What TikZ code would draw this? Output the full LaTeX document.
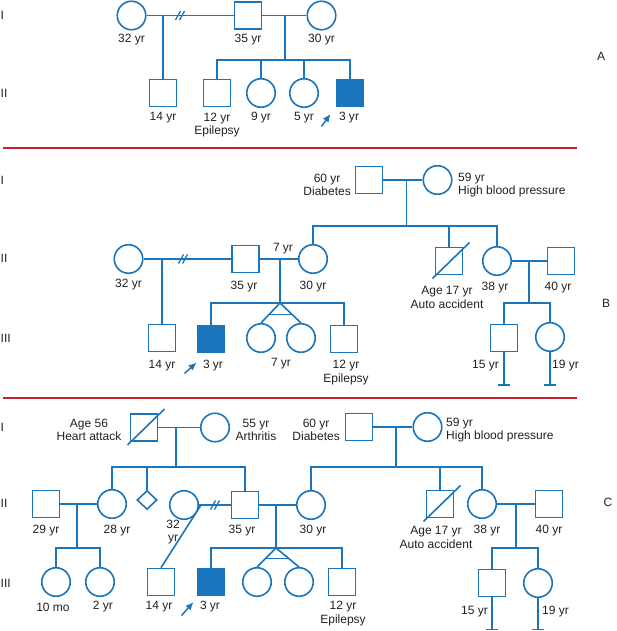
\documentclass[tikz,border=0pt]{standalone}
\usepackage{fontspec}
\setmainfont{Liberation Sans}
\usetikzlibrary{arrows.meta,shapes.geometric,calc}
\definecolor{pblue}{RGB}{27,117,188}
\definecolor{sepred}{RGB}{196,32,45}
\definecolor{txt}{RGB}{35,31,32}
\tikzset{
  pl/.style={draw=pblue, line width=1.6pt},
  sq/.style={pl, rectangle, minimum size=27pt, inner sep=0pt},
  fsq/.style={sq, fill=pblue},
  ci/.style={pl, circle, minimum size=28.5pt, inner sep=0pt},
  dia/.style={pl, diamond, minimum width=20pt, minimum height=19pt, inner sep=0pt},
  lb/.style={text=txt, font=\fontsize{12}{13.5}\selectfont, inner sep=0pt, align=center},
  gen/.style={lb, anchor=west},
  proband/.style={draw=pblue, line width=1.5pt, -{Latex[length=8pt,width=7pt]}},
  sepline/.style={draw=sepred, line width=1.2pt},
}
\newcommand\pedslash[1]{\draw[pl,line width=1.3pt] ([shift={(-4.5,4.5)}]#1) -- ++(5,-9) ([shift={(-0.5,4.5)}]#1) -- ++(5,-9);}
\newcommand\peddead[1]{\draw[pl] ([shift={(-16.5,17.5)}]#1.center) -- ([shift={(20.5,-18.5)}]#1.center);}
\begin{document}
\begin{tikzpicture}[x=1pt,y=-1pt]
\useasboundingbox (0,0) rectangle (616,631);

% ================= Panel A =================
\node[ci] (a32) at (131.5,15.5) {};
\node[sq] (a35) at (248,15.5) {};
\node[ci] (a30) at (321.5,15.5) {};
\node[sq] (a14) at (163,93) {};
\node[sq] (a12) at (217,93) {};
\node[ci] (a9) at (261,93) {};
\node[ci] (a5) at (304,93) {};
\node[fsq] (a3) at (350,93) {};
\draw[pl] (a32) -- (a35);
\draw[pl] (a35) -- (a30);
\pedslash{180,15.5}
\coordinate (aj1) at (163,15.5);
\draw[pl] (aj1) -- (a14.north);
\coordinate (aj2) at (285,15.5);
\coordinate (as2) at (285,60);
\draw[pl] (aj2) -- (as2);
\draw[pl] (a12.north) |- (as2) -| (a3.north);
\draw[pl] (a9.north) -- (a9.north |- as2);
\draw[pl] (a5.north) -- (a5.north |- as2);

\node[lb] (ta32) at (131.5,40) {32 yr};
\node[lb] (ta35) at (248,40) {35 yr};
\node[lb] (ta30) at (321.5,40) {30 yr};
\node[lb] (ta14) at (163,118) {14 yr};
\node[lb] (ta12) at (217,125) {12 yr\\Epilepsy};
\node[lb] (ta9) at (261,118) {9 yr};
\node[lb] (ta5) at (304,118) {5 yr};
\node[lb] (ta3) at (349,118) {3 yr};
\coordinate (pa0) at (321.5,126.5);
\coordinate (pa1) at (330.5,114);
\draw[proband] (pa0) -- (pa1);

\node[gen] (gA1) at (0.5,15) {I};
\node[gen] (gA2) at (0.5,93) {II};
\node[lb] (lA) at (601,56) {A};

\coordinate (sepA0) at (3,148);
\coordinate (sepA1) at (577,148);
\draw[sepline] (sepA0) -- (sepA1);

% ================= Panel B =================
\node[sq] (b60) at (369,180) {};
\node[ci] (b59) at (437.5,180) {};
\draw[pl] (b60) -- (b59);
\coordinate (bj1) at (406.5,180);
\coordinate (bs1) at (406.5,226);
\draw[pl] (bj1) -- (bs1);

\node[ci] (b32) at (128.5,259) {};
\node[sq] (b35) at (245.5,259) {};
\node[ci] (b30) at (313,259) {};
\node[sq] (b17) at (449,261) {};
\node[ci] (b38) at (497,261) {};
\node[sq] (b40) at (561,261) {};
\draw[pl] (b30.north) |- (bs1) -| (b38.north);
\draw[pl] (b17.north) -- (b17.north |- bs1);
\peddead{b17}
\draw[pl] (b32) -- (b35);
\pedslash{183,259}
\draw[pl] (b35) -- (b30);
\draw[pl] (b38) -- (b40);

\node[sq] (b14) at (162,338) {};
\coordinate (bj2) at (162,259);
\draw[pl] (bj2) -- (b14.north);
\coordinate (bj3) at (280,259);
\coordinate (bs3) at (280,303);
\draw[pl] (bj3) -- (bs3);
\node[fsq] (b3) at (211,339) {};
\node[ci] (bt1) at (261,338) {};
\node[ci] (bt2) at (301,338) {};
\node[sq] (b12) at (344,339) {};
\draw[pl] (b3.north) |- (bs3) -| (b12.north);
\draw[pl] (bt1.north) -- (bs3) -- (bt2.north);
\draw[pl] ($(bs3)!0.58!(bt1.north)$) -- ($(bs3)!0.58!(bt2.north)$);

\coordinate (bj4) at (529,261);
\coordinate (bs4) at (529,303);
\draw[pl] (bj4) -- (bs4);
\node[sq] (b15) at (504,338) {};
\node[ci] (b19) at (550,337) {};
\draw[pl] (b15.north) |- (bs4) -| (b19.north);
\coordinate (be15) at (504,385);
\coordinate (be19) at (550,385);
\draw[pl] (b15.south) -- (be15);
\draw[pl] ([xshift=-6pt]be15) -- ([xshift=6pt]be15);
\draw[pl] (b19.south) -- (be19);
\draw[pl] ([xshift=-6pt]be19) -- ([xshift=6pt]be19);

\node[lb, anchor=east] (tb60) at (351,185) {60 yr\\Diabetes};
\node[lb, anchor=west, align=left] (tb59) at (458,185) {59 yr\\High blood pressure};
\node[lb] (tb32) at (128.5,285) {32 yr};
\node[lb] (tb35) at (244,287) {35 yr};
\node[lb] (tb7) at (283,249) {7 yr};
\node[lb] (tb30) at (313,287) {30 yr};
\node[lb] (tb17) at (447,297.5) {Age 17 yr\\Auto accident};
\node[lb] (tb38) at (495,288) {38 yr};
\node[lb] (tb40) at (558,288) {40 yr};
\node[lb] (tb14) at (162,366) {14 yr};
\node[lb] (tb3) at (213,366) {3 yr};
\node[lb] (tb7t) at (281,364) {7 yr};
\node[lb] (tb12) at (346,372.5) {12 yr\\Epilepsy};
\node[lb, anchor=east] (tb15) at (499,366) {15 yr};
\node[lb, anchor=west] (tb19) at (552,366) {19 yr};
\coordinate (pb0) at (184.5,373.5);
\coordinate (pb1) at (196.5,362.5);
\draw[proband] (pb0) -- (pb1);

\node[gen] (gB1) at (0.5,180) {I};
\node[gen] (gB2) at (0.5,258) {II};
\node[gen] (gB3) at (0.5,338) {III};
\node[lb] (lB) at (606,303) {B};

\coordinate (sepB0) at (3,398);
\coordinate (sepB1) at (577,398);
\draw[sepline] (sepB0) -- (sepB1);

% ================= Panel C =================
\node[sq] (c56) at (144,427.5) {};
\peddead{c56}
\node[ci] (c55) at (215,427.5) {};
\draw[pl] (c56) -- (c55);
\coordinate (cj1) at (176,427.5);
\coordinate (cs1) at (176,467);
\draw[pl] (cj1) -- (cs1);
\node[sq] (c60) at (359,427) {};
\node[ci] (c59) at (427.5,427) {};
\draw[pl] (c60) -- (c59);
\coordinate (cj2) at (396,427);
\coordinate (cs2) at (396,467);
\draw[pl] (cj2) -- (cs2);

\node[sq] (c29) at (46,504) {};
\node[ci] (c28) at (112,504) {};
\node[dia] (cd) at (147,500) {};
\node[ci] (c32) at (184,505) {};
\node[sq] (c35) at (245,505) {};
\node[ci] (c30) at (311,505) {};
\node[sq] (c17) at (440,504) {};
\node[ci] (c38) at (482,504) {};
\node[sq] (c40) at (549,504) {};
\draw[pl] (c28.north) |- (cs1) -| (c35.north);
\draw[pl] (cd.north) -- (cd.north |- cs1);
\draw[pl] (c30.north) |- (cs2) -| (c38.north);
\draw[pl] (c17.north) -- (c17.north |- cs2);
\peddead{c17}

\draw[pl] (c29) -- (c28);
\coordinate (cj3) at (77,504);
\coordinate (cs3) at (77,548);
\draw[pl] (cj3) -- (cs3);
\node[ci] (c10) at (56,582) {};
\node[ci] (c2) at (100,582) {};
\draw[pl] (c10.north) |- (cs3) -| (c2.north);

\draw[pl] (c32) -- (c35);
\pedslash{215,505}
\node[sq] (c14) at (161,582) {};
\coordinate (cj4) at (201,505);
\draw[pl] (cj4) -- (c14.north);

\draw[pl] (c35) -- (c30);
\coordinate (cj5) at (276,505);
\coordinate (cs5) at (276,548);
\draw[pl] (cj5) -- (cs5);
\node[fsq] (c3) at (211,582) {};
\node[ci] (ct1) at (257,582) {};
\node[ci] (ct2) at (299,582) {};
\node[sq] (c12) at (342,582) {};
\draw[pl] (c3.north) |- (cs5) -| (c12.north);
\draw[pl] (ct1.north) -- (cs5) -- (ct2.north);
\draw[pl] ($(cs5)!0.56!(ct1.north)$) -- ($(cs5)!0.56!(ct2.north)$);

\draw[pl] (c38) -- (c40);
\coordinate (cj6) at (516,504);
\coordinate (cs6) at (516,548);
\draw[pl] (cj6) -- (cs6);
\node[sq] (c15) at (492,583) {};
\node[ci] (c19) at (538,583) {};
\draw[pl] (c15.north) |- (cs6) -| (c19.north);
\coordinate (ce15) at (492,629.5);
\coordinate (ce19) at (538,629.5);
\draw[pl] (c15.south) -- (ce15);
\draw[pl] ([xshift=-6pt]ce15) -- ([xshift=6pt]ce15);
\draw[pl] (c19.south) -- (ce19);
\draw[pl] ([xshift=-6pt]ce19) -- ([xshift=6pt]ce19);

\node[lb] (tc56) at (89,430) {Age 56\\Heart attack};
\node[lb] (tc55) at (256,430) {55 yr\\Arthritis};
\node[lb, anchor=east] (tc60) at (340,430) {60 yr\\Diabetes};
\node[lb, anchor=west, align=left] (tc59) at (446,430) {59 yr\\High blood pressure};
\node[lb] (tc29) at (46,531) {29 yr};
\node[lb] (tc28) at (117,531) {28 yr};
\node[lb] (tc32) at (173,532) {32\\yr};
\node[lb] (tc35) at (242,531) {35 yr};
\node[lb] (tc30) at (313,531) {30 yr};
\node[lb] (tc17) at (436,537.5) {Age 17 yr\\Auto accident};
\node[lb] (tc38) at (487,531) {38 yr};
\node[lb] (tc40) at (549,531) {40 yr};
\node[lb] (tc10) at (53,607) {10 mo};
\node[lb] (tc2) at (103,607) {2 yr};
\node[lb] (tc14) at (159,607) {14 yr};
\node[lb] (tc3) at (210,607) {3 yr};
\node[lb] (tc12) at (343,613.5) {12 yr\\Epilepsy};
\node[lb, anchor=east] (tc15) at (488,612) {15 yr};
\node[lb, anchor=west] (tc19) at (542,612) {19 yr};
\coordinate (pc0) at (181.5,615.5);
\coordinate (pc1) at (193.5,602);
\draw[proband] (pc0) -- (pc1);

\node[gen] (gC1) at (0.5,427) {I};
\node[gen] (gC2) at (0.5,503) {II};
\node[gen] (gC3) at (0.5,583) {III};
\node[lb] (lC) at (608,502) {C};
\end{tikzpicture}
\end{document}
